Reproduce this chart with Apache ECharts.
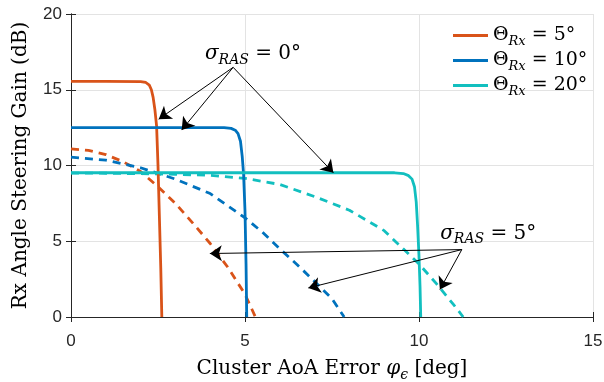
<!DOCTYPE html>
<html>
<head>
<meta charset="utf-8">
<script src="https://cdn.jsdelivr.net/npm/echarts@6/dist/echarts.min.js"></script>
<style>
  html, body { margin: 0; padding: 0; background: #fff; }
  #chart { width: 604px; height: 382px; }
</style>
</head>
<body>
<div id="chart"></div>
<script>
// legend labels, one per Rx beamwidth
const thetaLabels = ["5°", "10°", "20°"];
const colors = ["#D95319", "#0072BD", "#12BFBF"];

// sigma_RAS = 0 deg (solid)
const xSolid5 = [0, 1, 2, 2.15, 2.25, 2.31, 2.36, 2.41, 2.46, 2.5, 2.54, 2.58, 2.61];
const ySolid5 = [15.55, 15.55, 15.54, 15.48, 15.3, 15.0, 14.5, 13.7, 12.6, 10.0, 6.6, 3.2, 0];
const xSolid10 = [0, 2, 4.4, 4.6, 4.72, 4.8, 4.87, 4.92, 4.96, 5.0, 5.03, 5.05];
const ySolid10 = [12.5, 12.5, 12.5, 12.45, 12.33, 12.1, 11.6, 10.6, 9.4, 7.0, 3.5, 0];
const xSolid20 = [0, 5, 9.3, 9.55, 9.7, 9.8, 9.87, 9.92, 9.96, 10.0, 10.03, 10.05];
const ySolid20 = [9.52, 9.52, 9.52, 9.47, 9.33, 9.1, 8.6, 7.6, 6.0, 4.0, 2.0, 0];

// sigma_RAS = 5 deg (dashed)
const xDash5 = [0, 0.5, 1, 1.5, 2, 2.5, 3, 3.5, 4, 4.5, 5, 5.3];
const yDash5 = [11.1, 11.0, 10.72, 10.25, 9.6, 8.6, 7.5, 6.2, 4.85, 3.3, 1.5, 0];
const xDash10 = [0, 1, 2, 3, 4, 5, 5.5, 6, 6.5, 7, 7.5, 7.85];
const yDash10 = [10.55, 10.35, 9.85, 9.1, 8.15, 6.55, 5.6, 4.5, 3.45, 2.35, 1.2, 0];
const xDash20 = [0, 1, 2, 3, 4, 5, 6, 7, 8, 9, 10, 10.5, 11, 11.27];
const yDash20 = [9.5, 9.49, 9.46, 9.42, 9.35, 9.15, 8.75, 7.95, 7.05, 5.7, 3.5, 2.2, 0.8, 0];

// annotation anchors (data units)
const note0Pos = [5.23, 17.36];
const note0From = [4.66, 16.48];
const note0To = [[2.52, 13.06], [3.18, 12.34], [7.54, 9.52]];
const note5Pos = [11.99, 5.5];
const note5From = [11.23, 4.45];
const note5To = [[3.99, 4.19], [6.82, 1.92], [10.6, 1.81]];

const serif = "DejaVu Serif";
const makeRich = (size) => ({
  m: { fontFamily: serif, fontSize: size, color: "#000", lineHeight: size + 2 },
  mi: { fontFamily: serif, fontSize: size, fontStyle: "italic", color: "#000", lineHeight: size + 2 },
  sub: { fontFamily: serif, fontSize: Math.round(size * 0.7), fontStyle: "italic", color: "#000", lineHeight: 12, padding: [12, 0, 0, 0] },
});

const pairs = (xs, ys) => xs.map((x, i) => [x, ys[i]]);
const legendNames = thetaLabels.map((t) => "Theta " + t);

const solidData = [pairs(xSolid5, ySolid5), pairs(xSolid10, ySolid10), pairs(xSolid20, ySolid20)];
const dashData = [pairs(xDash5, yDash5), pairs(xDash10, yDash10), pairs(xDash20, yDash20)];

const series = [];
solidData.forEach((d, i) => {
  series.push({
    name: legendNames[i],
    type: "line",
    data: d,
    showSymbol: false,
    color: colors[i],
    lineStyle: { width: 2.8, color: colors[i] },
    z: 3,
  });
});
dashData.forEach((d, i) => {
  series.push({
    name: "dash " + thetaLabels[i],
    type: "line",
    data: d,
    showSymbol: false,
    color: colors[i],
    lineStyle: { width: 2.8, color: colors[i], type: [8, 6] },
    z: 2,
  });
});

// arrows + texts
const arrowLines = note0To.map((p) => [{ coord: note0From }, { coord: p }])
  .concat(note5To.map((p) => [{ coord: note5From }, { coord: p }]));
series.push({
  name: "notes",
  type: "line",
  data: [],
  z: 5,
  markLine: {
    silent: true,
    animation: false,
    symbol: ["none", "arrow"],
    symbolSize: 12,
    lineStyle: { color: "#000", width: 1, type: "solid" },
    label: { show: false },
    emphasis: { disabled: true },
    data: arrowLines,
  },
  markPoint: {
    silent: true,
    animation: false,
    symbol: "circle",
    symbolSize: 0,
    label: { show: true, position: "inside", rich: makeRich(20) },
    data: [
      { coord: note0Pos, label: { formatter: "{mi|σ}{sub|RAS}{m| = 0°}" } },
      { coord: note5Pos, label: { formatter: "{mi|σ}{sub|RAS}{m| = 5°}" } },
    ],
  },
});

const axisColor = "#262626";
const tickFont = { fontFamily: "Liberation Sans", fontSize: 17, color: axisColor };

const chart = echarts.init(document.getElementById("chart"));
chart.setOption({
  animation: false,
  backgroundColor: "#fff",
  grid: { left: 71, right: 11, top: 14, bottom: 65, outerBoundsMode: "none" },
  legend: {
    data: legendNames,
    orient: "vertical",
    left: 453,
    top: 23,
    padding: 0,
    itemGap: 0,
    itemWidth: 35,
    itemHeight: 3,
    icon: "rect",
    selectedMode: false,
    formatter: (name) => "{m|Θ}{sub|Rx}{m| = " + thetaLabels[legendNames.indexOf(name)] + "}",
    textStyle: { rich: makeRich(19) },
  },
  xAxis: [
    {
      type: "value",
      min: 0,
      max: 15,
      interval: 5,
      name: "{m|Cluster AoA Error }{mi|φ}{sub|ϵ}{m| [deg]}",
      nameLocation: "middle",
      nameGap: 41,
      nameTextStyle: { rich: makeRich(20) },
      axisLine: { lineStyle: { color: axisColor, width: 1 } },
      axisTick: { inside: true, length: 5, lineStyle: { color: axisColor } },
      axisLabel: { ...tickFont, margin: 16 },
      splitLine: { show: true, lineStyle: { color: "#E3E3E3", width: 1 } },
    },
    {
      type: "value",
      position: "top",
      min: 0,
      max: 15,
      interval: 5,
      axisLine: { show: true, lineStyle: { color: axisColor, width: 1 } },
      axisTick: { inside: true, length: 5, lineStyle: { color: axisColor } },
      axisLabel: { show: false },
      splitLine: { show: false },
    },
  ],
  yAxis: [
    {
      type: "value",
      min: 0,
      max: 20,
      interval: 5,
      name: "Rx Angle Steering Gain (dB)",
      nameLocation: "middle",
      nameGap: 40,
      nameTextStyle: { fontFamily: serif, fontSize: 20, color: "#000" },
      axisLine: { show: true, lineStyle: { color: axisColor, width: 1 } },
      axisTick: { show: true, inside: true, length: 5, lineStyle: { color: axisColor } },
      axisLabel: { ...tickFont, margin: 9 },
      splitLine: { show: true, lineStyle: { color: "#E3E3E3", width: 1 } },
    },
    {
      type: "value",
      position: "right",
      min: 0,
      max: 20,
      interval: 5,
      axisLine: { show: true, lineStyle: { color: axisColor, width: 1 } },
      axisTick: { show: true, inside: true, length: 5, lineStyle: { color: axisColor } },
      axisLabel: { show: false },
      splitLine: { show: false },
    },
  ],
  series: series,
});
</script>
</body>
</html>
